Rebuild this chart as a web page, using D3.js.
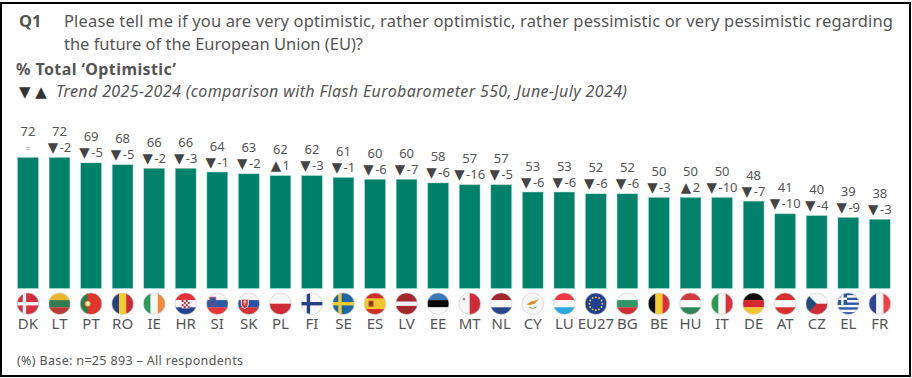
<!DOCTYPE html>
<html>
<head>
<meta charset="utf-8">
<script src="https://cdn.jsdelivr.net/npm/d3@7"></script>
<style>
  body { margin: 0; background: #fff; }
  svg { display: block; }
  text { font-family: "Noto Sans", sans-serif; fill: #555; }
</style>
</head>
<body>
<div id="chart"></div>
<script>
var countries = ["DK","LT","PT","RO","IE","HR","SI","SK","PL","FI","SE","ES","LV","EE","MT","NL","CY","LU","EU27","BG","BE","HU","IT","DE","AT","CZ","EL","FR"];
var optimistic = [72,72,69,68,66,66,64,63,62,62,61,60,60,58,57,57,53,53,52,52,50,50,50,48,41,40,39,38];
var trend = [0,-2,-5,-5,-2,-3,-1,-2,1,-3,-1,-6,-7,-6,-16,-5,-6,-6,-6,-6,-3,2,-10,-7,-10,-4,-9,-3];

var width = 912, height = 378;
var svg = d3.select("#chart").append("svg")
    .attr("width", width)
    .attr("height", height);

// frame
svg.append("rect")
    .attr("x", 1).attr("y", 3)
    .attr("width", 909).attr("height", 373)
    .attr("fill", "none").attr("stroke", "#000").attr("stroke-width", 2);

////// Header text /////////////////
svg.append("text").attr("x", 19).attr("y", 27)
    .style("font-size", "16.5px").style("font-weight", 700).text("Q1");
svg.append("text").attr("x", 64).attr("y", 27)
    .attr("textLength", 829).attr("lengthAdjust", "spacing")
    .style("font-size", "16.5px")
    .text("Please tell me if you are very optimistic, rather optimistic, rather pessimistic or very pessimistic regarding");
svg.append("text").attr("x", 64).attr("y", 50)
    .attr("textLength", 299).attr("lengthAdjust", "spacing")
    .style("font-size", "16.5px")
    .text("the future of the European Union (EU)?");
svg.append("text").attr("x", 16).attr("y", 75)
    .attr("textLength", 160).attr("lengthAdjust", "spacing")
    .style("font-size", "16px").style("font-weight", 700)
    .text("% Total ‘Optimistic’");
svg.append("text").attr("x", 19).attr("y", 97)
    .style("font-size", "15px").style("font-family", "DejaVu Sans").style("fill", "#333")
    .text("▼ ▲");
svg.append("text").attr("x", 56).attr("y", 97)
    .attr("textLength", 571).attr("lengthAdjust", "spacing")
    .style("font-size", "16px").style("font-style", "italic")
    .text("Trend 2025-2024 (comparison with Flash Eurobarometer 550, June-July 2024)");
svg.append("text").attr("x", 17).attr("y", 365)
    .attr("textLength", 226).attr("lengthAdjust", "spacing")
    .style("font-size", "12.5px")
    .text("(%) Base: n=25 893 – All respondents");

////// Define Scales /////////////////
var xScale = d3.scaleBand()
    .domain(countries)
    .range([12.2, 895.6])
    .paddingInner(0.344)
    .paddingOuter(0.172);
var yScale = d3.scaleLinear()
    .domain([0, 100])
    .range([288.4, 106.6]);

var rows = countries.map(function(c, i) {
    return {country: c, value: optimistic[i], trend: trend[i]};
});
function cx(d) { return xScale(d.country) + xScale.bandwidth() / 2; }

// bars
svg.append("g").selectAll("rect")
    .data(rows)
    .enter().append("rect")
    .attr("x", function(d) { return xScale(d.country); })
    .attr("y", function(d) { return yScale(d.value); })
    .attr("width", xScale.bandwidth())
    .attr("height", function(d) { return yScale(0) - yScale(d.value); })
    .attr("fill", "#00826a")
    .attr("stroke", "#8fcfc0")
    .attr("stroke-width", 0.4);

// value labels
svg.append("g").selectAll("text")
    .data(rows)
    .enter().append("text")
    .attr("x", cx)
    .attr("y", function(d) { return yScale(d.value) - 21.5; })
    .attr("text-anchor", "middle")
    .style("font-size", "13px")
    .text(function(d) { return d.value; });

// trend labels
var trendLabels = svg.append("g").selectAll("text")
    .data(rows)
    .enter().append("text")
    .attr("x", cx)
    .attr("y", function(d) { return yScale(d.value) - 5.5; })
    .attr("text-anchor", "middle")
    .style("font-size", function(d) { return d.trend === 0 ? "9px" : "13px"; });
trendLabels.filter(function(d) { return d.trend !== 0; }).append("tspan")
    .style("font-family", "DejaVu Sans")
    .style("font-size", "13.5px")
    .style("fill", "#444")
    .text(function(d) { return d.trend > 0 ? "▲" : "▼"; });
trendLabels.append("tspan")
    .attr("dx", function(d) { return d.trend === 0 ? 0 : 1.5; })
    .style("fill", function(d) { return d.trend === 0 ? "#888" : null; })
    .text(function(d) { return d.trend === 0 ? "=" : d.trend; });

// country labels
var xAxis = d3.axisBottom(xScale).tickSize(0).tickPadding(0);
var axisG = svg.append("g")
    .attr("transform", "translate(0,318)")
    .call(xAxis);
axisG.select(".domain").remove();
axisG.selectAll("text")
    .attr("fill", null)
    .style("font-size", "15px")
    .style("font-family", "\"Noto Sans\", sans-serif");

////// Flags /////////////////
var R = 10.8;
function stripesH(g, cols) {
    var h = 2 * R / cols.length;
    cols.forEach(function(c, i) {
        g.append("rect").attr("x", -R).attr("y", -R + i * h).attr("width", 2 * R).attr("height", h + 0.2).attr("fill", c);
    });
}
function stripesV(g, cols) {
    var w = 2 * R / cols.length;
    cols.forEach(function(c, i) {
        g.append("rect").attr("x", -R + i * w).attr("y", -R).attr("width", w + 0.2).attr("height", 2 * R).attr("fill", c);
    });
}
function box(g, x, y, w, h, c) {
    g.append("rect").attr("x", x).attr("y", y).attr("width", w).attr("height", h).attr("fill", c);
}
function nordic(g, bg, cross) {
    box(g, -R, -R, 2 * R, 2 * R, bg);
    box(g, -R, -1.7, 2 * R, 3.4, cross);
    box(g, -5.2, -R, 3.4, 2 * R, cross);
}
var flags = {
    DK: function(g) { nordic(g, "#d32f3f", "#f7f7f7"); },
    LT: function(g) { stripesH(g, ["#e9b52c", "#2f7d4f", "#bd3a34"]); },
    PT: function(g) {
        box(g, -R, -R, 2 * R, 2 * R, "#e0352b");
        box(g, -R, -R, 7.5, 2 * R, "#2c7a46");
        g.append("circle").attr("cx", -3.2).attr("r", 3.2).attr("fill", "#f2d36b").attr("stroke", "#a53a2a").attr("stroke-width", 0.8);
        box(g, -4.3, -1.5, 2.2, 3, "#f5f5f5");
    },
    RO: function(g) { stripesV(g, ["#27407f", "#f4cd2a", "#cf2a37"]); },
    IE: function(g) { stripesV(g, ["#2c9a5b", "#f7f7f7", "#f28c3c"]); },
    HR: function(g) {
        stripesH(g, ["#e6303a", "#f7f7f7", "#23408f"]);
        box(g, -4, -3.8, 8, 8.5, "#f7f7f7");
        [[-4, -3.8], [0, -3.8], [-2, -1.7], [2, -1.7], [-4, 0.4], [0, 0.4], [-2, 2.5], [2, 2.5]].forEach(function(p) {
            box(g, p[0], p[1], 2, 2.1, "#d5303a");
        });
    },
    SI: function(g) {
        stripesH(g, ["#f7f7f7", "#2c5aa6", "#e8353a"]);
        g.append("path").attr("d", "M-7.5-6.5h6v4.5q0 3-3 4q-3-1-3-4z").attr("fill", "#2c5aa6").attr("stroke", "#d5303a").attr("stroke-width", 0.6);
    },
    SK: function(g) {
        stripesH(g, ["#f7f7f7", "#2456a6", "#d5323a"]);
        g.append("path").attr("d", "M-7.5-4.5h7v5q0 3-3.5 4.5q-3.5-1.5-3.5-4.5z").attr("fill", "#d5323a").attr("stroke", "#f7f7f7").attr("stroke-width", 0.9);
        box(g, -4.4, -3.5, 0.9, 5, "#f7f7f7");
        box(g, -5.6, -2.2, 3.3, 0.8, "#f7f7f7");
    },
    PL: function(g) { stripesH(g, ["#f7f7f7", "#cf2a37"]); },
    FI: function(g) { nordic(g, "#f7f7f7", "#27407f"); },
    SE: function(g) { nordic(g, "#1f66a6", "#f3cb2e"); },
    ES: function(g) {
        box(g, -R, -R, 2 * R, 2 * R, "#f4c62d");
        box(g, -R, -R, 2 * R, 5.4, "#cf2f2b");
        box(g, -R, 5.4, 2 * R, 5.4, "#cf2f2b");
        box(g, -6.5, -3, 5, 6, "#a5452b");
        box(g, -5.2, -1.6, 2.4, 2.6, "#5b3a1e");
    },
    LV: function(g) {
        box(g, -R, -R, 2 * R, 2 * R, "#a4262f");
        box(g, -R, -2.2, 2 * R, 4.4, "#f7f7f7");
    },
    EE: function(g) { stripesH(g, ["#3b78b8", "#0a0a0a", "#f7f7f7"]); },
    MT: function(g) {
        stripesV(g, ["#f7f7f7", "#cf2a37"]);
        box(g, -7, -6, 2.4, 2.4, "#9a9a9a");
    },
    NL: function(g) { stripesH(g, ["#a4262f", "#f7f7f7", "#27468a"]); },
    CY: function(g) {
        box(g, -R, -R, 2 * R, 2 * R, "#f7f7f7");
        g.append("path").attr("d", "M-6.5 0.5q2-0.5 4-2.5q3-0.5 4.5-1q2-0.5 4.5-2.5q-1 2.5-3 3.5q-1 2-3.5 2.5q-3 1.5-6.5 0z").attr("fill", "#e08a2c");
        g.append("path").attr("d", "M-3.5 3.5q3.5 2.5 7 0").attr("fill", "none").attr("stroke", "#6f8f55").attr("stroke-width", 0.9);
    },
    LU: function(g) { stripesH(g, ["#ee3a42", "#f7f7f7", "#2ba7dc"]); },
    EU27: function(g) {
        box(g, -R, -R, 2 * R, 2 * R, "#1f3f94");
        d3.range(12).forEach(function(i) {
            var a = i * Math.PI / 6;
            g.append("circle").attr("cx", 6.5 * Math.cos(a)).attr("cy", 6.5 * Math.sin(a)).attr("r", 0.95).attr("fill", "#f4cd2a");
        });
    },
    BG: function(g) { stripesH(g, ["#f7f7f7", "#2f9668", "#cf2f35"]); },
    BE: function(g) { stripesV(g, ["#0a0a0a", "#f4cd2a", "#d9303a"]); },
    HU: function(g) { stripesH(g, ["#cf3a3f", "#f7f7f7", "#2f8656"]); },
    IT: function(g) { stripesV(g, ["#2c9a53", "#f7f7f7", "#d9303a"]); },
    DE: function(g) { stripesH(g, ["#0a0a0a", "#d5282e", "#f6c52f"]); },
    AT: function(g) { stripesH(g, ["#d5302c", "#f7f7f7", "#d5302c"]); },
    CZ: function(g) {
        stripesH(g, ["#f7f7f7", "#d02a36"]);
        g.append("path").attr("d", "M-11-11L0 0L-11 11z").attr("fill", "#1f4f78");
    },
    EL: function(g) {
        var cols = [];
        d3.range(9).forEach(function(i) { cols.push(i % 2 ? "#f7f7f7" : "#2d56a6"); });
        stripesH(g, cols);
        box(g, -R, -R, 9.6, 12, "#2d56a6");
        box(g, -R, -6.2, 9.6, 2.4, "#f7f7f7");
        box(g, -7.1, -R, 2.4, 12, "#f7f7f7");
    },
    FR: function(g) { stripesV(g, ["#2c4596", "#f7f7f7", "#ef3f47"]); }
};

var defs = svg.append("defs");
defs.append("clipPath").attr("id", "flagClip")
    .append("circle").attr("r", R);

var flagG = svg.append("g").selectAll("g")
    .data(rows)
    .enter().append("g")
    .attr("transform", function(d) { return "translate(" + cx(d) + ",303.7)"; });
flagG.append("g").attr("clip-path", "url(#flagClip)")
    .each(function(d) { flags[d.country](d3.select(this)); });
flagG.append("circle")
    .attr("r", R)
    .attr("fill", "none")
    .attr("stroke", "#c9c9c9")
    .attr("stroke-width", 0.6);
</script>
</body>
</html>
